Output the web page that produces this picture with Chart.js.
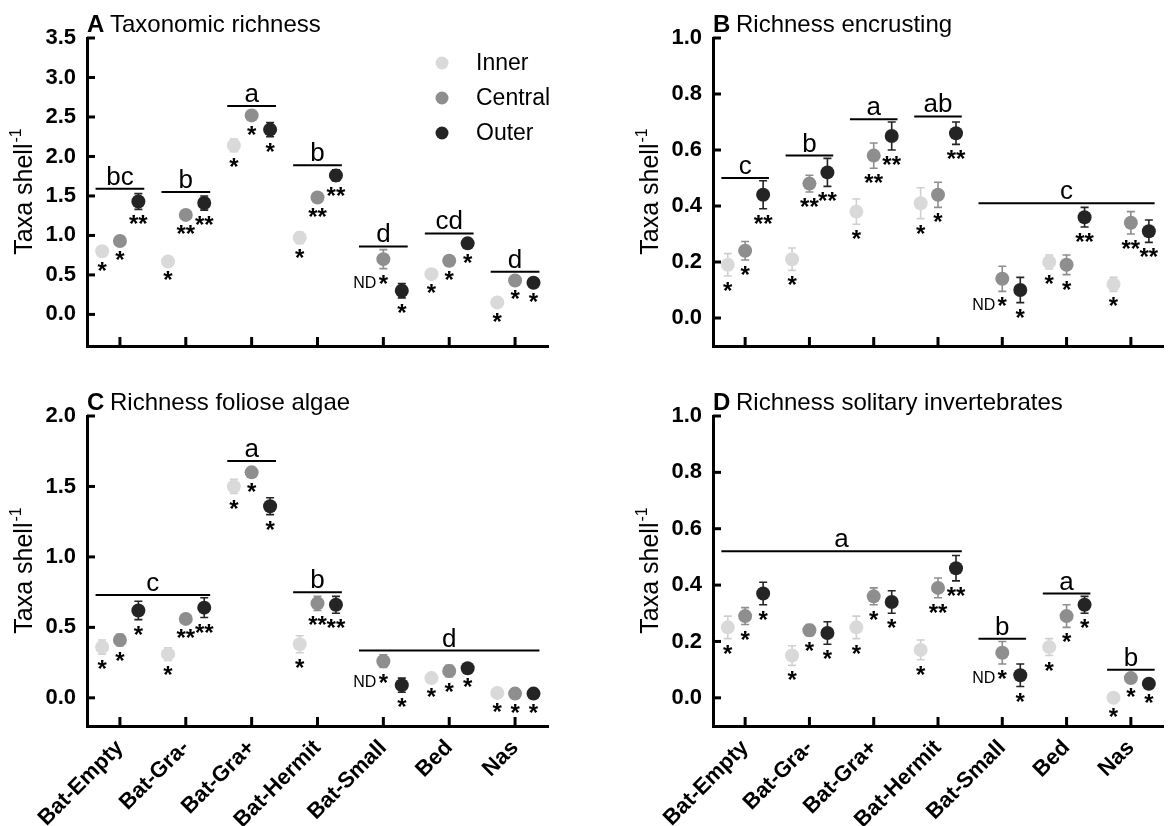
<!DOCTYPE html>
<html><head><meta charset="utf-8">
<script src="https://cdn.jsdelivr.net/npm/chart.js@4.4.1/dist/chart.umd.min.js"></script>
<style>
html,body{margin:0;padding:0;background:#fff;}
body{width:1170px;height:826px;position:relative;overflow:hidden;}
canvas{position:absolute;}
</style></head><body>
<canvas id="cA" width="585" height="390" style="left:0;top:0"></canvas>
<canvas id="cB" width="585" height="390" style="left:585px;top:0"></canvas>
<canvas id="cC" width="585" height="436" style="left:0;top:390px"></canvas>
<canvas id="cD" width="585" height="436" style="left:585px;top:390px"></canvas>
<script>
const categories = ['Bat-Empty','Bat-Gra-','Bat-Gra+','Bat-Hermit','Bat-Small','Bed','Nas'];
const seriesNames = ['Inner','Central','Outer'];

// Panel A: Taxonomic richness
const innerA = [0.80, 0.67, 2.14, 0.97, null, 0.51, 0.15];
const innerErrA = [0.06, 0.05, 0.08, 0.07, null, 0.03, 0.03];
const centralA = [0.93, 1.26, 2.52, 1.48, 0.70, 0.68, 0.43];
const centralErrA = [0.05, 0.03, 0.06, 0.06, 0.12, 0.06, 0.03];
const outerA = [1.43, 1.41, 2.34, 1.76, 0.30, 0.90, 0.40];
const outerErrA = [0.10, 0.09, 0.09, 0.07, 0.09, 0.06, 0.03];
const sigInnerA = ['*','*','*','*','','*','*'];
const sigCentralA = ['*','**','*','**','*','*','*'];
const sigOuterA = ['**','**','*','**','*','*','*'];
const lettersA = ['bc','b','a','b','d','cd','d'];
const letterStartA = [0,1,2,3,4,5,6];
const letterEndA = [0,1,2,3,4,5,6];
const letterLevelA = [1.59,1.55,2.64,1.89,0.86,1.025,0.54];
const yTicksA = [0,0.5,1.0,1.5,2.0,2.5,3.0,3.5];

// Panel B: Richness encrusting
const innerB = [0.19, 0.21, 0.38, 0.41, null, 0.20, 0.12];
const innerErrB = [0.04, 0.04, 0.045, 0.055, null, 0.025, 0.025];
const centralB = [0.24, 0.48, 0.58, 0.44, 0.14, 0.19, 0.34];
const centralErrB = [0.033, 0.03, 0.045, 0.045, 0.045, 0.035, 0.04];
const outerB = [0.44, 0.52, 0.65, 0.66, 0.10, 0.36, 0.31];
const outerErrB = [0.05, 0.05, 0.05, 0.04, 0.045, 0.035, 0.04];
const sigInnerB = ['*','*','*','*','','*','*'];
const sigCentralB = ['*','**','**','*','*','*','**'];
const sigOuterB = ['**','**','**','**','*','**','**'];
const lettersB = ['c','b','a','ab','c'];
const letterStartB = [0,1,2,3,4];
const letterEndB = [0,1,2,3,6];
const letterLevelB = [0.50,0.58,0.71,0.72,0.41];
const yTicksB = [0,0.2,0.4,0.6,0.8,1.0];

// Panel C: Richness foliose algae
const innerC = [0.36, 0.31, 1.50, 0.38, null, 0.14, 0.035];
const innerErrC = [0.05, 0.045, 0.05, 0.06, null, 0.02, 0.01];
const centralC = [0.41, 0.56, 1.60, 0.67, 0.26, 0.19, 0.03];
const centralErrC = [0.04, 0.02, 0.035, 0.05, 0.045, 0.04, 0.01];
const outerC = [0.62, 0.64, 1.36, 0.66, 0.09, 0.21, 0.03];
const outerErrC = [0.065, 0.07, 0.06, 0.06, 0.05, 0.02, 0.01];
const sigInnerC = ['*','*','*','*','','*','*'];
const sigCentralC = ['*','**','*','**','*','*','*'];
const sigOuterC = ['*','**','*','**','*','*','*'];
const lettersC = ['c','a','b','d'];
const letterStartC = [0,2,3,4];
const letterEndC = [1,2,3,6];
const letterLevelC = [0.73,1.68,0.75,0.335];
const yTicksC = [0,0.5,1.0,1.5,2.0];

// Panel D: Richness solitary invertebrates
const innerD = [0.25, 0.15, 0.25, 0.17, null, 0.18, 0.00];
const innerErrD = [0.04, 0.035, 0.04, 0.035, null, 0.03, 0.005];
const centralD = [0.29, 0.24, 0.36, 0.39, 0.16, 0.29, 0.07];
const centralErrD = [0.03, 0.02, 0.03, 0.035, 0.04, 0.04, 0.015];
const outerD = [0.37, 0.23, 0.34, 0.46, 0.08, 0.33, 0.05];
const outerErrD = [0.04, 0.04, 0.04, 0.045, 0.04, 0.03, 0.01];
const sigInnerD = ['*','*','*','*','','*','*'];
const sigCentralD = ['*','*','*','**','*','*','*'];
const sigOuterD = ['*','*','*','**','*','*','*'];
const lettersD = ['a','b','a','b'];
const letterStartD = [0,4,5,6];
const letterEndD = [3,4,5,6];
const letterLevelD = [0.52,0.21,0.37,0.10];
const yTicksD = [0,0.2,0.4,0.6,0.8,1.0];

// styling
const FONT = '"Liberation Sans", Arial, Helvetica, sans-serif';
const COLORS = ['#d9d9d9','#8e8e8e','#242424'];
const ERRCOLORS = ['#cfcfcf','#8e8e8e','#242424'];
const OFFSETS = [-0.27, 0, 0.28];
const HALF = 0.37;

function panelPlugin(p) {
  return {
    id: 'panel' + p.key,
    beforeDatasetsDraw(chart) {
      const {ctx, scales: {x, y}} = chart;
      ctx.save();
      ctx.lineWidth = 1.6;
      p.values.forEach((vals, s) => {
        ctx.strokeStyle = ERRCOLORS[s];
        vals.forEach((v, i) => {
          if (v === null) return;
          const e = p.errs[s][i];
          if (!e) return;
          const px = x.getPixelForValue(i + OFFSETS[s]);
          const yt = y.getPixelForValue(v + e), yb = y.getPixelForValue(v - e);
          ctx.beginPath();
          ctx.moveTo(px, yt); ctx.lineTo(px, yb);
          ctx.moveTo(px - 4, yt); ctx.lineTo(px + 4, yt);
          ctx.moveTo(px - 4, yb); ctx.lineTo(px + 4, yb);
          ctx.stroke();
        });
      });
      ctx.restore();
    },
    afterDraw(chart) {
      const {ctx, chartArea: ca, scales: {x, y}} = chart;
      ctx.save();
      // inward tick marks
      ctx.strokeStyle = '#000';
      ctx.lineWidth = 3;
      y.ticks.forEach((t) => {
        const py = y.getPixelForValue(t.value);
        ctx.beginPath(); ctx.moveTo(ca.left, py); ctx.lineTo(ca.left + 8, py); ctx.stroke();
      });
      x.ticks.forEach((t) => {
        const px = x.getPixelForValue(t.value);
        ctx.beginPath(); ctx.moveTo(px, ca.bottom); ctx.lineTo(px, ca.bottom - 9); ctx.stroke();
      });
      // significance stars and ND
      ctx.fillStyle = '#000';
      ctx.textAlign = 'center';
      ctx.textBaseline = 'alphabetic';
      p.values.forEach((vals, s) => {
        vals.forEach((v, i) => {
          if (v === null) return;
          const lab = p.sigs[s][i];
          if (!lab) return;
          const e = p.errs[s][i] || 0;
          const px = x.getPixelForValue(i + OFFSETS[s]);
          const cy = Math.max(y.getPixelForValue(v - e) + 10, y.getPixelForValue(v) + 14);
          ctx.font = 'bold 24px ' + FONT;
          ctx.fillText(lab, px, cy + 13);
        });
      });
      p.values[0].forEach((v, i) => {
        if (v !== null) return;
        const vc = p.values[1][i], ec = p.errs[1][i] || 0;
        const pxc = x.getPixelForValue(i + OFFSETS[1]);
        const cy = Math.max(y.getPixelForValue(vc - ec) + 10, y.getPixelForValue(vc) + 14);
        ctx.font = '16px ' + FONT;
        ctx.textAlign = 'right';
        ctx.fillText('ND', pxc - 7, cy + 9);
        ctx.textAlign = 'center';
      });
      // letter group lines
      ctx.lineWidth = 2;
      p.letters.forEach((lab, k) => {
        const x0 = x.getPixelForValue(p.lStart[k] - HALF);
        const x1 = x.getPixelForValue(p.lEnd[k] + HALF);
        const ly = y.getPixelForValue(p.lLevel[k]);
        ctx.beginPath(); ctx.moveTo(x0, ly); ctx.lineTo(x1, ly); ctx.stroke();
        ctx.font = '26px ' + FONT;
        ctx.textAlign = 'center';
        ctx.fillText(lab, (x0 + x1) / 2, ly - 4);
      });
      // title
      ctx.textAlign = 'left';
      ctx.font = 'bold 24px ' + FONT;
      ctx.fillText(p.tag, ca.left, ca.top - 6);
      const w = ctx.measureText(p.tag + ' ').width;
      ctx.font = '24px ' + FONT;
      ctx.fillText(p.title, ca.left + w - 1, ca.top - 6);
      // y axis title with superscript
      ctx.save();
      ctx.translate(ca.left - 64, (ca.top + ca.bottom) / 2);
      ctx.rotate(-Math.PI / 2);
      ctx.font = '25px ' + FONT;
      const w1 = ctx.measureText('Taxa shell').width;
      ctx.font = '16px ' + FONT;
      const w2 = ctx.measureText('-1').width;
      const sx = -(w1 + w2) / 2;
      ctx.font = '25px ' + FONT;
      ctx.textAlign = 'left';
      ctx.fillText('Taxa shell', sx, 9);
      ctx.font = '16px ' + FONT;
      ctx.fillText('-1', sx + w1 + 1, -2);
      ctx.restore();
      // legend
      if (p.legend) {
        seriesNames.forEach((n, s) => {
          const ly = 63 + s * 35;
          ctx.fillStyle = COLORS[s];
          ctx.beginPath(); ctx.arc(442, ly, 6.5, 0, Math.PI * 2); ctx.fill();
          ctx.fillStyle = '#000';
          ctx.font = '23px ' + FONT;
          ctx.textAlign = 'left';
          ctx.textBaseline = 'middle';
          ctx.fillText(n, 476, ly + 1);
          ctx.textBaseline = 'alphabetic';
        });
      }
      ctx.restore();
    }
  };
}

function makePanel(id, p) {
  const datasets = seriesNames.map((name, s) => ({
    label: name,
    data: p.values[s].map((v, i) => ({x: i + OFFSETS[s], y: v})),
    backgroundColor: COLORS[s],
    pointBackgroundColor: COLORS[s],
    pointBorderWidth: 0,
    pointRadius: 7,
    pointHoverRadius: 7,
    showLine: false
  }));
  return new Chart(document.getElementById(id), {
    type: 'scatter',
    data: {datasets},
    options: {
      responsive: false,
      animation: false,
      devicePixelRatio: 1,
      layout: {padding: {left: 0, right: p.padRight, top: p.padTop, bottom: 0}},
      plugins: {legend: {display: false}, tooltip: {enabled: false}},
      scales: {
        x: {
          type: 'linear', min: -0.5, max: 6.5,
          grid: {display: false},
          border: {display: true, width: 3, color: '#000'},
          afterBuildTicks: (s) => { s.ticks = categories.map((c, i) => ({value: i})); },
          afterFit: (s) => { s.height = p.xHeight; },
          ticks: {
            display: p.showX, autoSkip: false, minRotation: 45, maxRotation: 45, padding: 1,
            color: '#000', font: {family: FONT, size: 22, weight: 'bold'},
            callback: (v) => categories[v]
          }
        },
        y: {
          type: 'linear', min: p.yMin, max: p.yMax,
          grid: {display: false},
          border: {display: true, width: 3, color: '#000'},
          afterBuildTicks: (s) => { s.ticks = p.yTicks.map((v) => ({value: v})); },
          afterFit: (s) => { s.width = p.yWidth; },
          ticks: {
            padding: 3, color: '#000', font: {family: FONT, size: 22, weight: 'bold'},
            callback: (v) => Number(v).toFixed(1)
          }
        }
      }
    },
    plugins: [panelPlugin(p)]
  });
}

makePanel('cA', {
  key: 'A', tag: 'A', title: 'Taxonomic richness', legend: true,
  values: [innerA, centralA, outerA], errs: [innerErrA, centralErrA, outerErrA],
  sigs: [sigInnerA, sigCentralA, sigOuterA],
  letters: lettersA, lStart: letterStartA, lEnd: letterEndA, lLevel: letterLevelA,
  yTicks: yTicksA, yMin: -0.4, yMax: 3.5,
  yWidth: 87, padRight: 37, padTop: 38, xHeight: 44, showX: false
});
makePanel('cB', {
  key: 'B', tag: 'B', title: 'Richness encrusting', legend: false,
  values: [innerB, centralB, outerB], errs: [innerErrB, centralErrB, outerErrB],
  sigs: [sigInnerB, sigCentralB, sigOuterB],
  letters: lettersB, lStart: letterStartB, lEnd: letterEndB, lLevel: letterLevelB,
  yTicks: yTicksB, yMin: -0.1, yMax: 1.0,
  yWidth: 128, padRight: 2, padTop: 38, xHeight: 44, showX: false
});
makePanel('cC', {
  key: 'C', tag: 'C', title: 'Richness foliose algae', legend: false,
  values: [innerC, centralC, outerC], errs: [innerErrC, centralErrC, outerErrC],
  sigs: [sigInnerC, sigCentralC, sigOuterC],
  letters: lettersC, lStart: letterStartC, lEnd: letterEndC, lLevel: letterLevelC,
  yTicks: yTicksC, yMin: -0.2, yMax: 2.0,
  yWidth: 87, padRight: 37, padTop: 26, xHeight: 100, showX: true
});
makePanel('cD', {
  key: 'D', tag: 'D', title: 'Richness solitary invertebrates', legend: false,
  values: [innerD, centralD, outerD], errs: [innerErrD, centralErrD, outerErrD],
  sigs: [sigInnerD, sigCentralD, sigOuterD],
  letters: lettersD, lStart: letterStartD, lEnd: letterEndD, lLevel: letterLevelD,
  yTicks: yTicksD, yMin: -0.1, yMax: 1.0,
  yWidth: 128, padRight: 2, padTop: 26, xHeight: 100, showX: true
});
</script>
</body></html>
